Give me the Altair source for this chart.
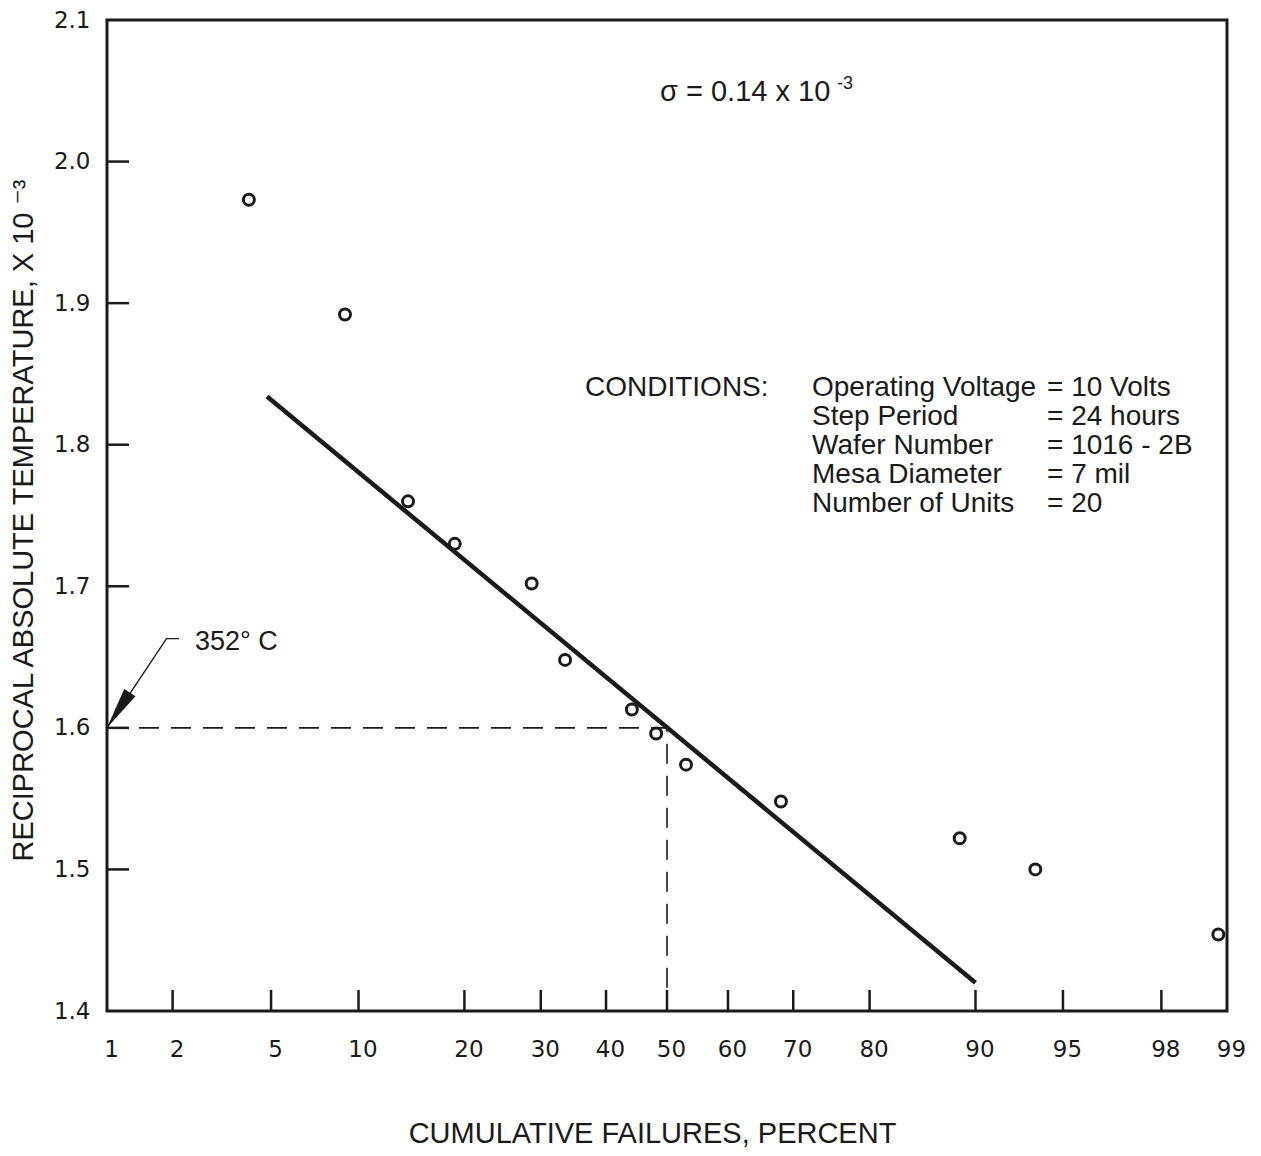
import altair as alt
import pandas as pd
from statistics import NormalDist

# ---------------- data ----------------
fail_pct = [4.12, 9.05, 14.1, 18.9, 28.7, 33.6, 44.2, 48.2, 53.15, 68.2, 88.8, 93.7, 98.9]
recip_temp = [1.973, 1.892, 1.760, 1.730, 1.702, 1.648, 1.613, 1.596, 1.574, 1.548, 1.522, 1.500, 1.454]

fit_pct = [4.83, 90.0]
fit_temp = [1.834, 1.420]

guide_pct = [1.0, 50.0, 50.0]
guide_temp = [1.6, 1.6, 1.4]

leader_pct = [1.0, 1.88, 2.13]
leader_temp = [1.6, 1.663, 1.663]
arrow_pct = [1.0]
arrow_temp = [1.6]

x_label_pct = [1, 2, 5, 10, 20, 30, 40, 50, 60, 70, 80, 90, 95, 98, 99]
x_tick_pct = [2, 5, 10, 20, 30, 40, 50, 60, 70, 80, 90, 95, 98]
y_label_vals = [1.4, 1.5, 1.6, 1.7, 1.8, 1.9, 2.0, 2.1]
y_tick_vals = [1.5, 1.6, 1.7, 1.8, 1.9, 2.0]

cond_head = "CONDITIONS:"
cond_names = ["Operating Voltage", "Step Period", "Wafer Number", "Mesa Diameter", "Number of Units"]
cond_values = ["= 10 Volts", "= 24 hours", "= 1016 - 2B", "= 7 mil", "= 20"]
sigma_text = "σ = 0.14 x 10"
sigma_exp = "-3"
temp_label = "352° C"
x_title = "CUMULATIVE FAILURES, PERCENT"
y_title = "RECIPROCAL ABSOLUTE TEMPERATURE, X 10 ⁻³"

# ---------------- layout / style ----------------
W, H = 1120, 991
INK = "#1a1a1a"
nd = NormalDist()
PROBIT = "quantileNormal(datum.pct / 100)"

xs = alt.Scale(domain=[nd.inv_cdf(0.01), nd.inv_cdf(0.99)], nice=False, zero=False)
ys = alt.Scale(domain=[1.4, 2.1], nice=False, zero=False)

x_axis = alt.Axis(
    values=[nd.inv_cdf(p / 100) for p in x_label_pct],
    labelExpr="round(cumulativeNormal(datum.value) * 100)",
    ticks=False, tickSize=0, domain=False, grid=False,
    labelFont="DejaVu Sans", labelFontSize=23, labelColor=INK,
    labelPadding=27, labelOffset=4, labelFlush=False, labelOverlap=False,
    title=x_title, titleFont="Liberation Sans", titleFontSize=29,
    titleFontWeight="normal", titleColor=INK,
    titleX=545, titleY=131, titleBaseline="alphabetic", titleAlign="center",
)
y_axis = alt.Axis(
    values=y_label_vals, format=".1f",
    ticks=False, tickSize=0, domain=False, grid=False,
    labelFont="DejaVu Sans", labelFontSize=23, labelColor=INK,
    labelPadding=17, labelFlush=False, labelOverlap=False,
    title=y_title, titleFont="Liberation Sans, DejaVu Sans", titleFontSize=29,
    titleFontWeight="normal", titleColor=INK,
    titleX=-84, titleY=500, titleAngle=270, titleBaseline="middle", titleAlign="center",
)

X = alt.X("z:Q", scale=xs, axis=x_axis)
Y = alt.Y("temp:Q", scale=ys, axis=y_axis)


def frame(pcts, temps):
    return pd.DataFrame({"pct": pcts, "temp": temps, "i": list(range(len(pcts)))})


points = (
    alt.Chart(frame(fail_pct, recip_temp))
    .transform_calculate(z=PROBIT)
    .mark_point(shape="circle", filled=False, size=120, strokeWidth=3, color=INK, opacity=1)
    .encode(x=X, y=Y)
)

fit = (
    alt.Chart(frame(fit_pct, fit_temp))
    .transform_calculate(z=PROBIT)
    .mark_line(color=INK, strokeWidth=4.5)
    .encode(x=X, y=Y)
)

guide = (
    alt.Chart(frame(guide_pct, guide_temp))
    .transform_calculate(z=PROBIT)
    .mark_line(color=INK, strokeWidth=1.6, strokeDash=[20, 12])
    .encode(x=X, y=Y, order=alt.Order("i:Q"))
)

leader = (
    alt.Chart(frame(leader_pct, leader_temp))
    .transform_calculate(z=PROBIT)
    .mark_line(color=INK, strokeWidth=1.4)
    .encode(x=X, y=Y, order=alt.Order("i:Q"))
)

arrow = (
    alt.Chart(frame(arrow_pct, arrow_temp))
    .transform_calculate(z=PROBIT)
    .mark_point(shape="M0,0 L0.32,2 L-0.32,2 Z", filled=True, size=1764, angle=213,
                color=INK, opacity=1, strokeWidth=0)
    .encode(x=X, y=Y)
)

x_ticks = (
    alt.Chart(frame(x_tick_pct, [1.4] * len(x_tick_pct)))
    .transform_calculate(z=PROBIT)
    .mark_rule(color=INK, strokeWidth=2.5)
    .encode(x=X, y=alt.value(H - 21), y2=alt.value(H))
)

y_ticks = (
    alt.Chart(pd.DataFrame({"temp": y_tick_vals}))
    .mark_rule(color=INK, strokeWidth=2.5)
    .encode(y=Y, x=alt.value(0), x2=alt.value(22))
)


def text_layer(txt, x, y, size, font="Liberation Sans", **kw):
    return (
        alt.Chart(pd.DataFrame({"t": [txt]}))
        .mark_text(align="left", baseline="alphabetic", font=font, fontSize=size, color=INK, **kw)
        .encode(text="t:N", x=alt.value(x), y=alt.value(y))
    )


cond_h = text_layer(cond_head, 478, 376, 28)
cond_n = text_layer("\n".join(cond_names), 705, 376, 28, lineBreak="\n", lineHeight=29)
cond_v = text_layer("\n".join(cond_values), 940, 376, 28, lineBreak="\n", lineHeight=29)
sig = text_layer(sigma_text, 553, 81, 29, font="Liberation Sans, DejaVu Sans")
sig_e = text_layer(sigma_exp, 730, 69, 18)
tlab = text_layer(temp_label, 88, 630, 27)

chart = (
    alt.layer(guide, fit, points, leader, arrow, x_ticks, y_ticks,
              cond_h, cond_n, cond_v, sig, sig_e, tlab)
    .properties(
        width=W, height=H,
        autosize=alt.AutoSizeParams(type="none"),
        padding={"left": 99, "top": 12, "right": 26, "bottom": 138},
        background="white",
    )
    .configure_view(stroke=INK, strokeWidth=3)
)

chart.save("out.html", embed_options={"renderer": "svg", "actions": False})
